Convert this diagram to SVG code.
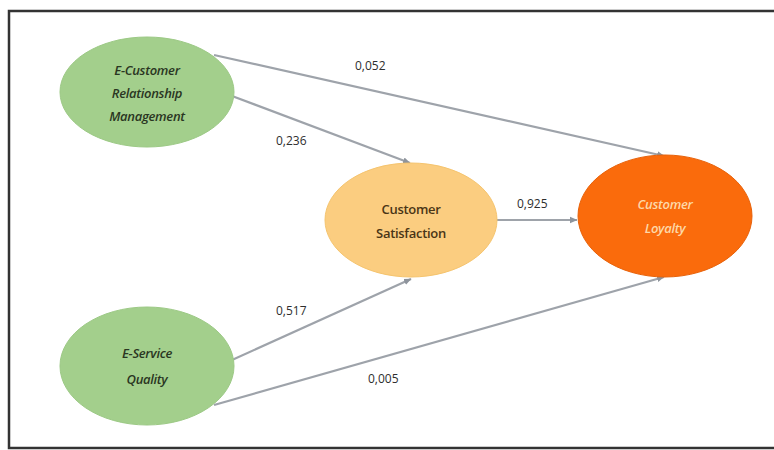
<svg xmlns="http://www.w3.org/2000/svg" width="774" height="450" viewBox="0 0 774 450">
  <defs>
    <marker id="arrow" markerWidth="8" markerHeight="8" refX="7" refY="4" orient="auto" markerUnits="userSpaceOnUse">
      <path d="M0,0.8 L7.5,4 L0,7.2 Z" fill="#8e949c"/>
    </marker>
    <style>
      .edge { stroke: #9ea3aa; stroke-width: 2.2; fill: none; marker-end: url(#arrow); }
      .coef { font-family: "Open Sans", "Liberation Sans", sans-serif; font-size: 12px; fill: #2e2e2e; }
      .lbl { font-family: "Open Sans", "Liberation Sans", sans-serif; font-size: 13px; font-weight: 600; text-anchor: middle; letter-spacing: -0.3px; }
      .green { fill: #a3cf8c; stroke: #9cc985; stroke-width: 1; }
      .it { font-style: italic; }
    </style>
  </defs>

  <!-- frame -->
  <rect x="9" y="11" width="770" height="437" fill="#ffffff" stroke="#333" stroke-width="2.5"/>

  <!-- connectors -->
  <g id="connectors">
    <line class="edge" x1="214" y1="55" x2="664" y2="156"/>
    <line class="edge" x1="232" y1="96" x2="410" y2="163"/>
    <line class="edge" x1="497" y1="220" x2="577" y2="220"/>
    <line class="edge" x1="232" y1="360" x2="411" y2="279"/>
    <line class="edge" x1="214" y1="405" x2="664" y2="277"/>
    <text class="coef" x="355" y="70">0,052</text>
    <text class="coef" x="276" y="145">0,236</text>
    <text class="coef" x="517" y="208">0,925</text>
    <text class="coef" x="276" y="315">0,517</text>
    <text class="coef" x="368" y="383">0,005</text>
  </g>

  <g id="ecrm">
    <ellipse class="green" cx="147" cy="92" rx="87" ry="55"/>
    <text class="lbl it" fill="#2a3622" x="147" y="75">E-Customer</text>
    <text class="lbl it" fill="#2a3622" x="147" y="98">Relationship</text>
    <text class="lbl it" fill="#2a3622" x="147" y="121">Management</text>
  </g>

  <g id="esq">
    <ellipse class="green" cx="147" cy="366" rx="87" ry="59"/>
    <text class="lbl it" fill="#2a3622" x="147" y="358">E-Service</text>
    <text class="lbl it" fill="#2a3622" x="147" y="384">Quality</text>
  </g>

  <g id="satisfaction">
    <ellipse cx="411" cy="220" rx="86" ry="57" fill="#fbcd80" stroke="#f5c46e" stroke-width="1"/>
    <text class="lbl" fill="#4a3516" x="411" y="214">Customer</text>
    <text class="lbl" fill="#4a3516" x="411" y="238">Satisfaction</text>
  </g>

  <g id="loyalty">
    <ellipse cx="665" cy="216" rx="87" ry="61" fill="#fa6b0c" stroke="#e8620a" stroke-width="1"/>
    <text class="lbl it" fill="#fdd8a8" font-weight="400" x="665" y="209">Customer</text>
    <text class="lbl it" fill="#fdd8a8" font-weight="400" x="665" y="233">Loyalty</text>
  </g>
</svg>
